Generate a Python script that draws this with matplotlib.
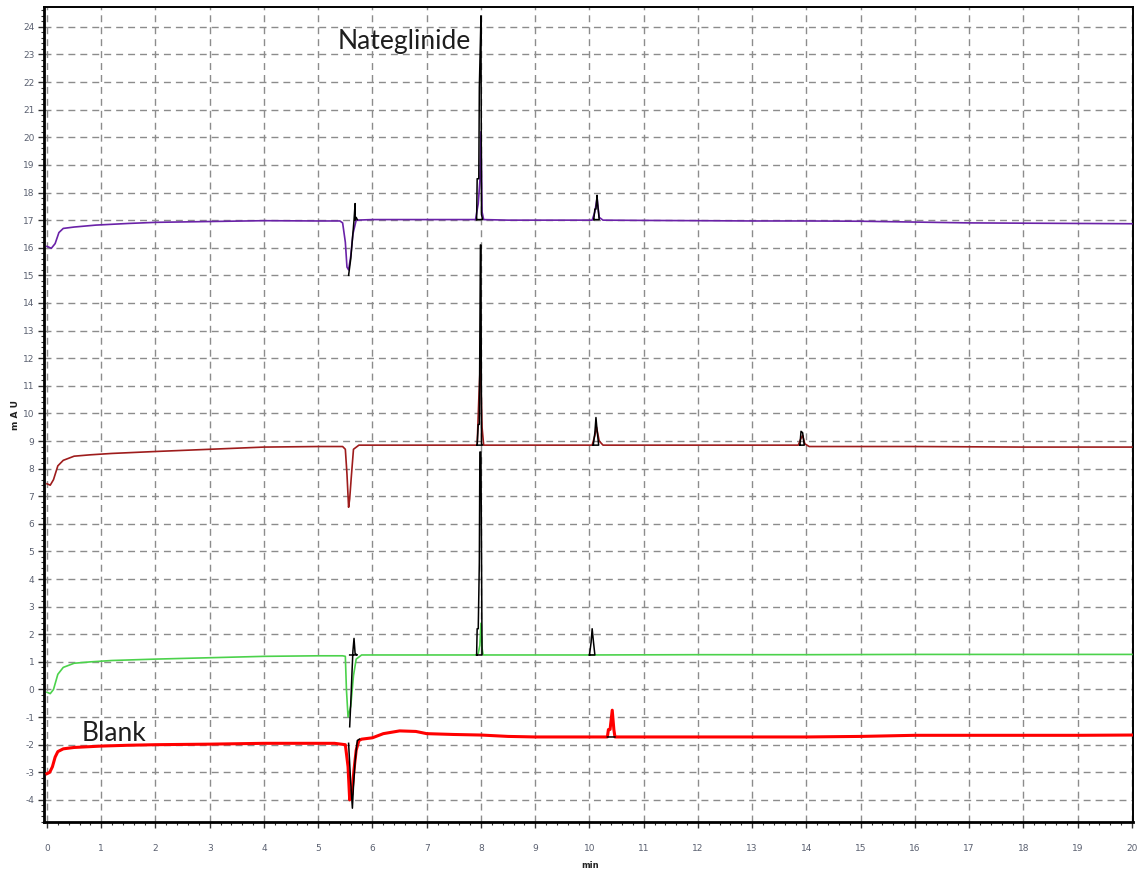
import numpy as np
import matplotlib
matplotlib.use("Agg")
import matplotlib.pyplot as plt
from matplotlib.ticker import MultipleLocator

plt.rcParams["axes.unicode_minus"] = False

nan = np.nan

# sample trace (top, purple)
t_sample = [0.0, 0.08, 0.15, 0.22, 0.3, 0.5, 0.9, 1.5, 2.0, 3.0, 4.0, 5.0, 5.4, 5.45, 5.5,
            5.53, 5.56, 5.6, 5.64, 5.7, 6.0, 7.0, 7.9, 7.95, 7.98, 8.0, 8.02, 8.05, 8.5,
            10.05, 10.1, 10.14, 10.18, 10.25, 11, 12, 13, 14, 15, 16, 17, 18, 19, 20]
y_sample = [16.05, 15.98, 16.15, 16.55, 16.7, 16.75, 16.82, 16.88, 16.92, 16.95, 16.98, 16.97,
            16.97, 16.9, 16.2, 15.3, 15.2, 15.7, 16.5, 17.0, 17.02, 17.02, 17.02, 17.6, 18.4,
            20.2, 17.3, 17.02, 17.0, 17.0, 17.3, 17.8, 17.1, 17.0, 16.99, 16.98, 16.97, 16.97,
            16.96, 16.93, 16.9, 16.89, 16.88, 16.87]
t_sample_pk = [5.56, 5.6, 5.63, 5.66, 5.68, 5.68, 5.7, 5.72, nan,
               7.92, 7.93, 7.96, 7.97, 7.99, 8.0, 8.01, 8.03, 7.92, nan,
               10.08, 10.1, 10.12, 10.14, 10.15, 10.18, 10.08]
y_sample_pk = [15.0, 15.6, 16.3, 17.0, 17.6, 17.0, 17.1, 17.02, nan,
               17.02, 18.5, 18.5, 21.8, 23.5, 24.4, 17.2, 17.02, 17.02, nan,
               17.02, 17.4, 17.4, 17.9, 17.6, 17.02, 17.02]

# second trace (maroon)
t_std = [0, 0.06, 0.12, 0.2, 0.3, 0.5, 0.8, 1.2, 2, 3, 4, 5, 5.45, 5.5, 5.53, 5.56, 5.58,
         5.61, 5.65, 5.75, 6.5, 7.5, 7.93, 7.96, 7.99, 8.02, 8.05, 9, 10.05, 10.1, 10.13,
         10.18, 10.25, 13.85, 13.9, 13.93, 13.97, 14.05, 16, 18, 20]
y_std = [7.45, 7.4, 7.6, 8.1, 8.3, 8.45, 8.5, 8.55, 8.62, 8.7, 8.78, 8.8, 8.8, 8.7, 7.8, 6.6,
         6.9, 7.7, 8.7, 8.85, 8.85, 8.85, 8.85, 10.5, 11.9, 9.5, 8.85, 8.85, 8.85, 9.2, 9.5,
         9.0, 8.85, 8.85, 9.1, 9.2, 8.9, 8.8, 8.8, 8.78, 8.78]
t_std_pk = [7.93, 7.95, 7.97, 7.99, 8.0, 8.01, 8.03, 7.93, nan,
            10.07, 10.1, 10.12, 10.14, 10.17, 10.07, nan,
            13.88, 13.9, 13.93, 13.96, 13.88]
y_std_pk = [8.85, 9.6, 9.6, 16.1, 16.1, 8.9, 8.85, 8.85, nan,
            8.85, 9.3, 9.85, 9.4, 8.85, 8.85, nan,
            8.85, 9.35, 9.3, 8.85, 8.85]

# third trace (green)
t_low = [0, 0.06, 0.12, 0.2, 0.3, 0.5, 0.8, 1.2, 2, 3, 4, 5, 5.45, 5.5, 5.52, 5.55, 5.6,
         5.65, 5.7, 5.8, 6.5, 7.9, 7.95, 7.98, 8.0, 8.02, 8.04, 9, 10, 12, 14, 16, 18, 20]
y_low = [-0.1, -0.15, 0.0, 0.55, 0.8, 0.95, 1.0, 1.05, 1.1, 1.15, 1.2, 1.22, 1.22, 1.2, 0.0,
         -1.0, -0.6, 0.5, 1.1, 1.25, 1.25, 1.25, 1.3, 1.6, 2.4, 1.5, 1.25, 1.25, 1.25, 1.26,
         1.26, 1.27, 1.27, 1.27]
t_low_pk = [5.58, 5.6, 5.62, 5.64, 5.66, 5.68, 5.72, 5.58, nan,
            7.92, 7.93, 7.95, 7.97, 7.98, 8.0, 8.02, 7.92, nan,
            10.0, 10.03, 10.05, 10.07, 10.1, 10.0]
y_low_pk = [-1.35, -0.5, 0.5, 1.4, 1.85, 1.3, 1.25, 1.25, nan,
            1.25, 2.2, 2.2, 4.6, 8.6, 8.6, 1.25, 1.25, nan,
            1.25, 1.7, 2.2, 1.8, 1.25, 1.25]

# blank (red)
t_blank = [0, 0.05, 0.1, 0.15, 0.2, 0.3, 0.5, 1.0, 1.5, 2.0, 3.0, 4.0, 5.0, 5.3, 5.5, 5.55,
           5.58, 5.62, 5.66, 5.7, 5.75, 5.8, 6.0, 6.2, 6.5, 6.8, 7.0, 7.5, 8.0, 8.5, 9.0,
           10.33, 10.35, 10.38, 10.42, 10.45, 10.47, 11, 12, 13, 14, 15, 15.5, 16, 17, 18, 19, 20]
y_blank = [-3.05, -3.0, -2.8, -2.45, -2.25, -2.15, -2.1, -2.05, -2.02, -2.0, -1.98, -1.95,
           -1.95, -1.95, -2.0, -2.8, -4.0, -3.8, -2.9, -2.2, -1.85, -1.8, -1.75, -1.6, -1.5,
           -1.52, -1.6, -1.63, -1.65, -1.7, -1.72, -1.72, -1.45, -1.45, -0.75, -1.45, -1.72,
           -1.72, -1.72, -1.72, -1.72, -1.7, -1.68, -1.66, -1.66, -1.66, -1.66, -1.65]
t_blank_pk = [5.56, 5.6, 5.63, 5.65, 5.68, 5.72, 5.76, nan, 10.33, 10.47]
y_blank_pk = [-1.95, -3.4, -4.3, -3.5, -2.6, -1.85, -1.8, nan, -1.72, -1.72]

traces = [
    (t_sample, y_sample, t_sample_pk, y_sample_pk, "#6a22a8", 1.2),
    (t_std, y_std, t_std_pk, y_std_pk, "#9e1c1c", 1.2),
    (t_low, y_low, t_low_pk, y_low_pk, "#4cd24c", 1.2),
    (t_blank, y_blank, t_blank_pk, y_blank_pk, "#ff0000", 2.2),
]

fig = plt.figure(figsize=(11.39, 8.77), dpi=100)
ax = fig.add_axes([44 / 1139, 55 / 877, 1089 / 1139, 815 / 877])

for t, y, tp, yp, col, lw in traces:
    ax.plot(t, y, color=col, lw=lw, zorder=3)
    ax.plot(tp, yp, color="black", lw=1.1, zorder=4)

ax.set_xlim(-0.055, 20.02)
ax.set_ylim(-4.8, 24.72)
ax.xaxis.set_major_locator(MultipleLocator(1))
ax.xaxis.set_minor_locator(MultipleLocator(0.2))
ax.yaxis.set_major_locator(MultipleLocator(1))
ax.yaxis.set_minor_locator(MultipleLocator(0.2))
ax.grid(True, which="major", color="#8c8c8c", lw=1.0, linestyle=(0, (5, 3.6)), zorder=1)

for side in ["left", "bottom"]:
    ax.spines[side].set_linewidth(2.0)
for side in ["top", "right"]:
    ax.spines[side].set_linewidth(1.4)

ax.tick_params(which="major", direction="out", length=4, width=1.0, labelsize=6.5,
               labelcolor="#5a6070", color="#333333")
ax.tick_params(which="minor", direction="out", length=2.5, width=0.8, color="#333333")
ax.tick_params(axis="x", pad=12)
ax.tick_params(axis="y", pad=3)

fig.text(16 / 1139, 1 - 415 / 877, "m A U", rotation=90, ha="center", va="center",
         fontsize=6.5, fontweight="bold", color="#222222")
fig.text(590 / 1139, 1 - 865 / 877, "min", ha="center", va="center",
         fontsize=6, fontweight="bold", color="#222222")

ax.text(5.36, 23.46, "Nateglinide", ha="left", va="center", fontsize=19,
        family="Lato", color="#1e1e1e", zorder=5)
ax.text(0.645, -1.58, "Blank", ha="left", va="center", fontsize=19,
        family="Lato", color="#1e1e1e", zorder=5)

fig.savefig("out.png", dpi=100)
